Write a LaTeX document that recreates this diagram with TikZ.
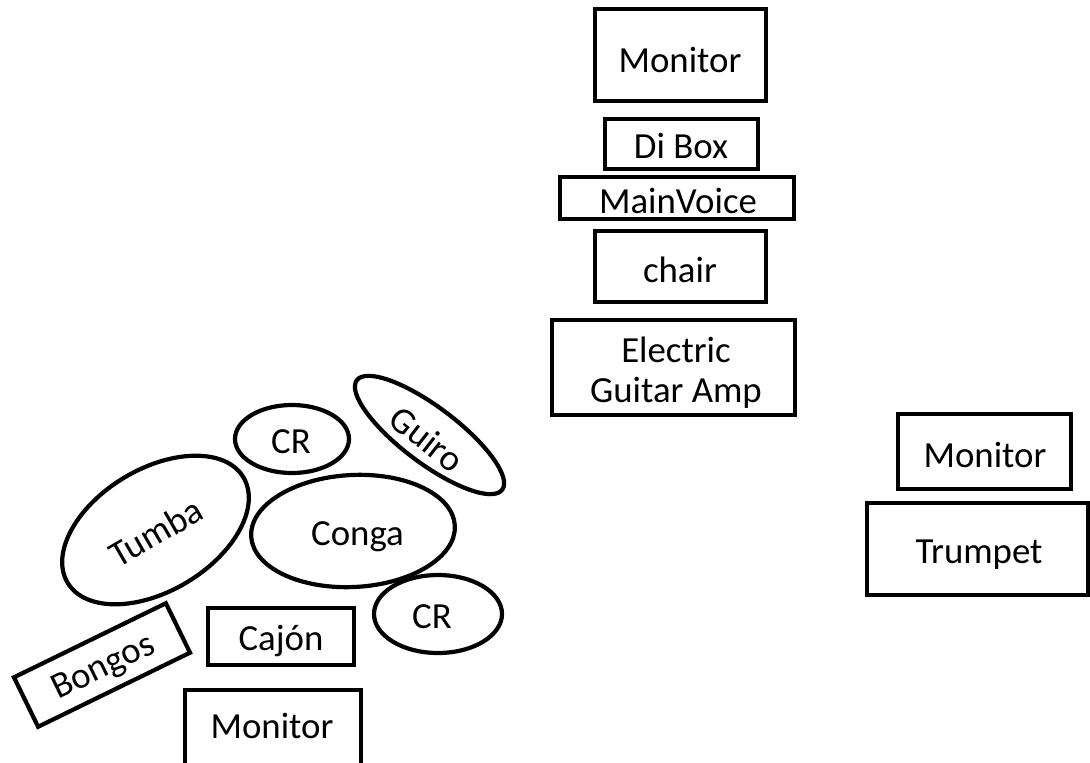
\documentclass[tikz,border=0pt]{standalone}
\usepackage{fontspec}
\setmainfont{Carlito}
\usetikzlibrary{shapes.geometric}
\begin{document}
\begin{tikzpicture}[x=1pt,y=-1pt,
  box/.style={draw,line width=4.2pt,rectangle,inner sep=0pt},
  oval/.style={draw,line width=4.2pt,ellipse,inner sep=0pt},
  lbl/.style={font=\fontsize{36.8}{40}\selectfont,inner sep=0pt},
  lblb/.style={lbl,anchor=base}]
\clip (0,0) rectangle (1090,763);
\useasboundingbox (0,0) rectangle (1090,763);
% centre column
\node[box,minimum width=171pt,minimum height=92pt] (mon1) at (680.5,55) {};
\node[lblb] (tmon1) at (680,72) {Monitor};
\node[box,minimum width=153pt,minimum height=50pt] (dibox) at (681.5,144) {};
\node[lblb] (tdibox) at (681,158) {Di Box};
\node[box,minimum width=234pt,minimum height=42pt] (voice) at (677,198) {};
\node[lblb] (tvoice) at (678,213) {MainVoice};
\node[box,minimum width=171pt,minimum height=71pt] (chair) at (680.5,266.5) {};
\node[lblb] (tchair) at (680,282) {chair};
\node[box,minimum width=243pt,minimum height=95pt] (amp) at (673.5,367.5) {};
\node[lblb,align=center] (tamp) at (676,402) {Electric\\Guitar Amp};
% right
\node[box,minimum width=173pt,minimum height=75pt] (mon2) at (984.5,451.5) {};
\node[lblb] (tmon2) at (985,467) {Monitor};
\node[box,minimum width=221pt,minimum height=92pt] (trumpet) at (977.5,549) {};
\node[lblb] (ttrumpet) at (979,563) {Trumpet};
% left percussion
\node[oval,minimum width=114pt,minimum height=68pt] (crtop) at (292,439) {};
\node[lblb] (tcrtop) at (291,453) {CR};
\node[oval,minimum width=182pt,minimum height=56pt,rotate=-37] (guiro) at (429.5,435) {};
\node[lbl,rotate=-38] (tguiro) at (427,439) {Guiro};
\node[oval,minimum width=205pt,minimum height=122pt,rotate=31] (tumba) at (155.5,530) {};
\node[lbl,rotate=30] (ttumba) at (156,532) {Tumba};
\node[oval,minimum width=204pt,minimum height=112pt,rotate=3] (conga) at (353,531) {};
\node[lblb] (tconga) at (357.5,545) {Conga};
\node[oval,minimum width=128pt,minimum height=78pt] (crbot) at (438,614) {};
\node[lblb] (tcrbot) at (432,628) {CR};
\node[box,minimum width=169pt,minimum height=55pt,rotate=26] (bongos) at (102,665) {};
\node[lbl,rotate=26] (tbongos) at (104,668) {Bongos};
\node[box,minimum width=146pt,minimum height=57pt] (cajon) at (281,636.5) {};
\node[lblb] (tcajon) at (281,650) {Cajón};
\node[box,minimum width=176pt,minimum height=82pt] (mon3) at (273,731) {};
\node[lblb] (tmon3) at (272,738) {Monitor};
\end{tikzpicture}
\end{document}
